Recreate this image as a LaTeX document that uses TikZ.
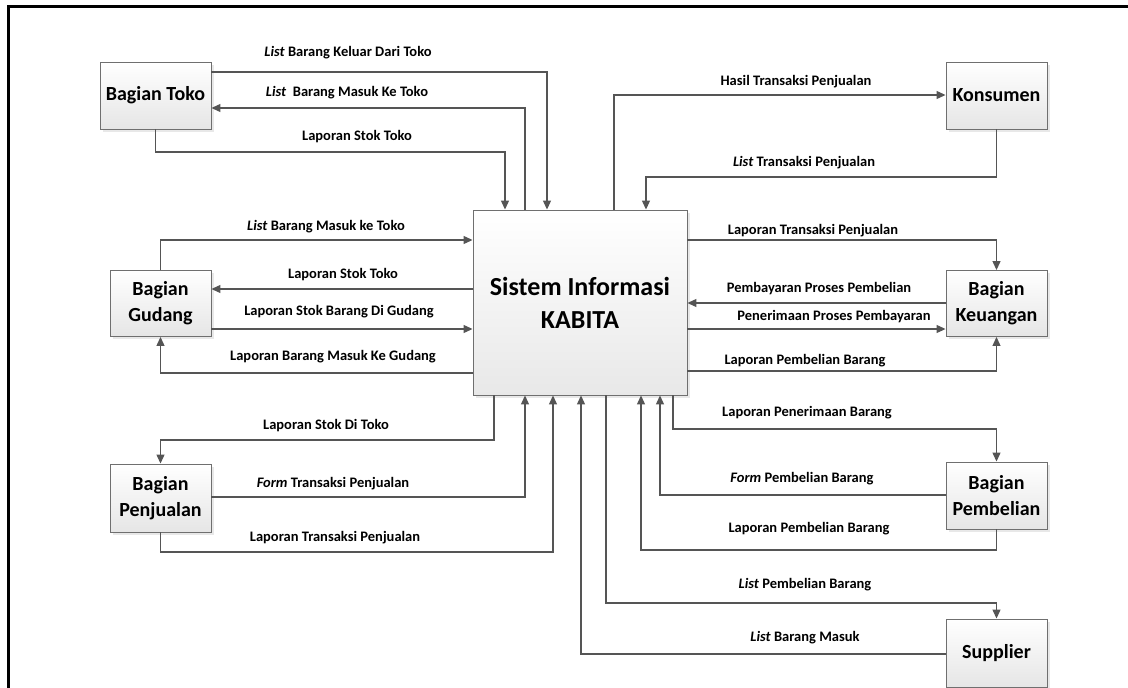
\documentclass[tikz,border=0pt]{standalone}
\usepackage{fontspec}
\setmainfont{Carlito}
\usetikzlibrary{arrows.meta,shadows}
\definecolor{conn}{HTML}{555555}
\definecolor{boxline}{HTML}{6F6F6F}
\tikzset{
  ent/.style={draw=boxline, line width=0.9pt, top color=white, bottom color=black!10,
    drop shadow={shadow xshift=2.5pt, shadow yshift=-2.5pt, fill=black!15, opacity=0.6},
    align=center, font=\bfseries\fontsize{20}{26}\selectfont, inner sep=0pt},
  lbl/.style={font=\bfseries\fontsize{14.5}{17}\selectfont, inner sep=0pt},
  arr/.style={draw=conn, line width=1.2pt, -{Triangle[length=9pt,width=8pt]}},
}
\begin{document}
\begin{tikzpicture}[x=1pt,y=-1pt]
\useasboundingbox (0,0) rectangle (1128,688);
% frame
\draw[line width=2.5pt] (8.5,690) -- (8.5,6.5) -- (1130,6.5);

% entities
\node[ent, minimum width=111pt, minimum height=67pt] (toko) at (155.5,95.5) {Bagian Toko};
\node[ent, minimum width=101pt, minimum height=66pt] (gudang) at (160.5,303.5) {Bagian\\Gudang};
\node[ent, minimum width=101pt, minimum height=68pt] (penj) at (160.5,498) {Bagian\\Penjualan};
\node[ent, minimum width=101pt, minimum height=67pt] (kons) at (996.5,95.5) {Konsumen};
\node[ent, minimum width=101pt, minimum height=66pt] (keu) at (996.5,303.5) {Bagian\\Keuangan};
\node[ent, minimum width=101pt, minimum height=67pt] (pemb) at (996.5,495.5) {Bagian\\Pembelian};
\node[ent, minimum width=101pt, minimum height=68pt] (supp) at (996.5,653) {Supplier};
\node[ent, bottom color=black!9, minimum width=214pt, minimum height=185pt,
      font=\bfseries\fontsize{26}{33}\selectfont] (sys) at (580,302.5) {Sistem Informasi\\KABITA};

% connectors: Bagian Toko
\draw[arr] (toko.east |- 0,72) -| (547,0 |- sys.north);
\draw[arr] (525,0 |- sys.north) |- (toko.east |- 0,108);
\draw[arr] (toko.south) -- (toko.south |- 0,152) -| (505,0 |- sys.north);
% Konsumen
\draw[arr] (614,0 |- sys.north) |- (kons.west |- 0,95);
\draw[arr] (kons.south) -- (kons.south |- 0,177) -| (646,0 |- sys.north);
% Bagian Gudang
\draw[arr] (gudang.north) |- (sys.west |- 0,240);
\draw[arr] (sys.west |- 0,289) -- (gudang.east |- 0,289);
\draw[arr] (gudang.east |- 0,329) -- (sys.west |- 0,329);
\draw[arr] (sys.west |- 0,373) -| (gudang.south);
% Bagian Keuangan
\draw[arr] (sys.east |- 0,240) -| (keu.north);
\draw[arr] (keu.west |- 0,303) -- (sys.east |- 0,303);
\draw[arr] (sys.east |- 0,329) -- (keu.west |- 0,329);
\draw[arr] (sys.east |- 0,371) -| (keu.south);
% Bagian Penjualan
\draw[arr] (494,0 |- sys.south) -- (494,440) -| (penj.north);
\draw[arr] (penj.east |- 0,497) -| (525,0 |- sys.south);
\draw[arr] (penj.south) -- (penj.south |- 0,552) -| (553,0 |- sys.south);
% Bagian Pembelian
\draw[arr] (673,0 |- sys.south) -- (673,429) -| (pemb.north);
\draw[arr] (pemb.west |- 0,495) -| (660,0 |- sys.south);
\draw[arr] (pemb.south) -- (pemb.south |- 0,550) -| (641,0 |- sys.south);
% Supplier
\draw[arr] (606,0 |- sys.south) -- (606,603) -| (supp.north);
\draw[arr] (supp.west |- 0,654) -| (581,0 |- sys.south);

% labels
\node[lbl] (l1) at (348,53) {\textit{List} Barang Keluar Dari Toko};
\node[lbl] (l2) at (347,93) {\textit{List}\ \ Barang Masuk Ke Toko};
\node[lbl] (l3) at (357,137) {Laporan Stok Toko};
\node[lbl] (l4) at (796,82) {Hasil Transaksi Penjualan};
\node[lbl] (l5) at (804,163) {\textit{List} Transaksi Penjualan};
\node[lbl] (l6) at (326,227) {\textit{List} Barang Masuk ke Toko};
\node[lbl] (l7) at (343,275) {Laporan Stok Toko};
\node[lbl] (l8) at (339,312) {Laporan Stok Barang Di Gudang};
\node[lbl] (l9) at (333,357) {Laporan Barang Masuk Ke Gudang};
\node[lbl] (l10) at (813,231) {Laporan Transaksi Penjualan};
\node[lbl] (l11) at (819,289) {Pembayaran Proses Pembelian};
\node[lbl] (l12) at (834,317) {Penerimaan Proses Pembayaran};
\node[lbl] (l13) at (805,361) {Laporan Pembelian Barang};
\node[lbl] (l14) at (807,413) {Laporan Penerimaan Barang};
\node[lbl] (l15) at (326,426) {Laporan Stok Di Toko};
\node[lbl] (l16) at (333,484) {\textit{Form} Transaksi Penjualan};
\node[lbl] (l17) at (335,538) {Laporan Transaksi Penjualan};
\node[lbl] (l18) at (802,479) {\textit{Form} Pembelian Barang};
\node[lbl] (l19) at (809,529) {Laporan Pembelian Barang};
\node[lbl] (l20) at (805,585) {\textit{List} Pembelian Barang};
\node[lbl] (l21) at (805,638) {\textit{List} Barang Masuk};
\end{tikzpicture}
\end{document}
